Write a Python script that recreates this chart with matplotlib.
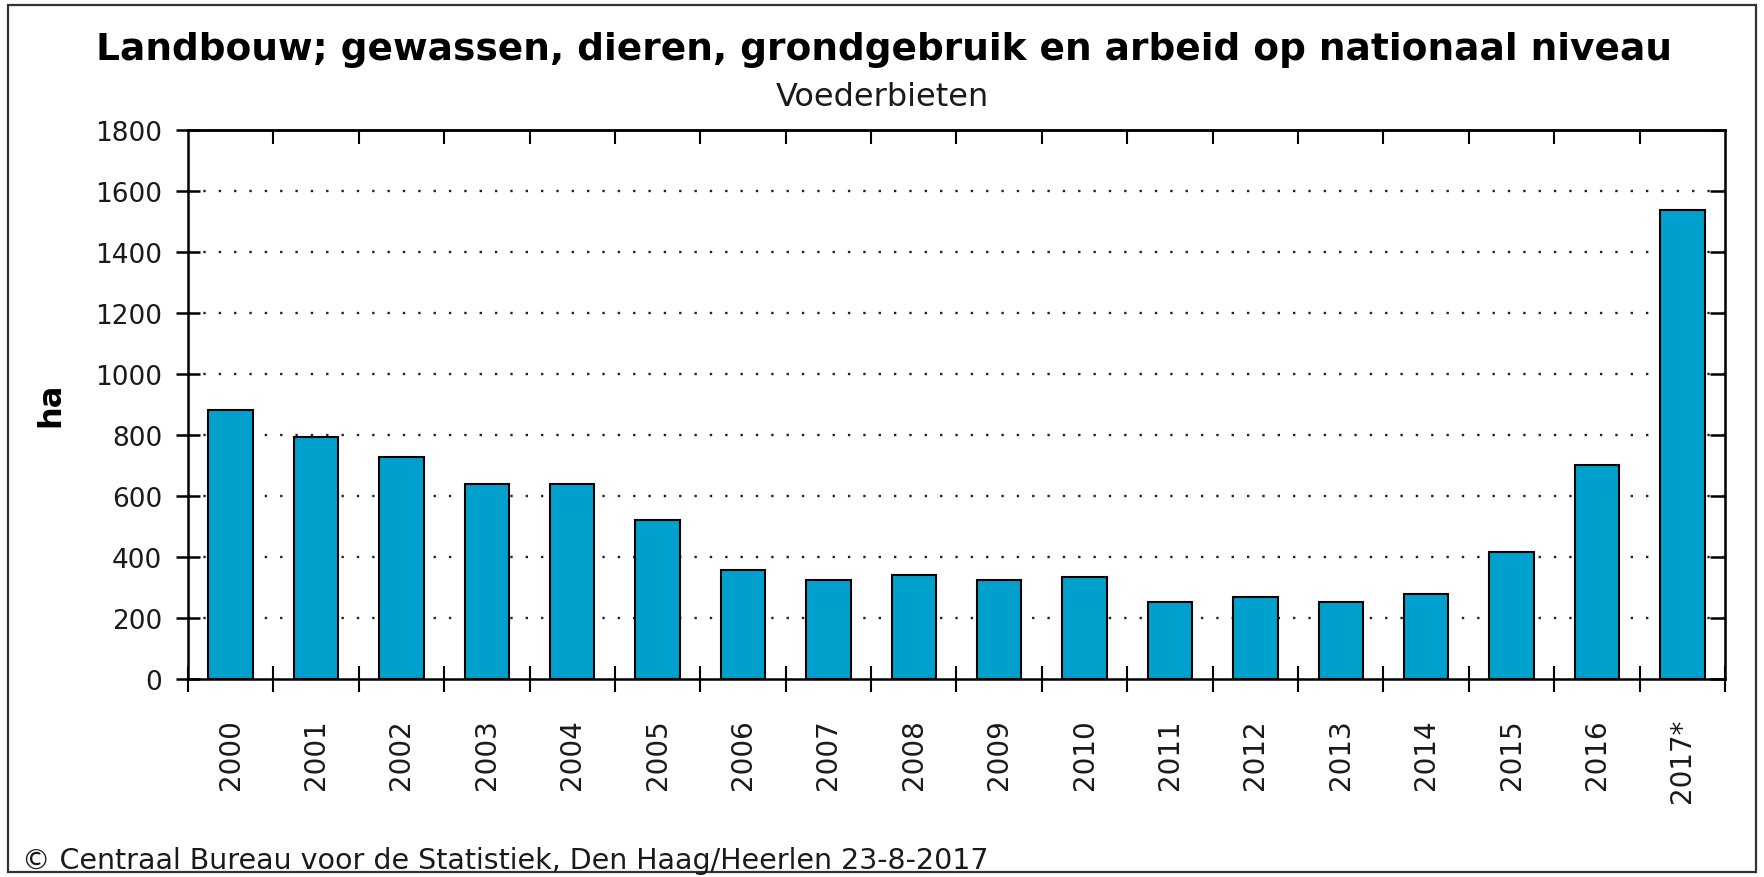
import matplotlib.pyplot as plt
from matplotlib.patches import Rectangle
import numpy as np

# data (Voederbieten, ha)
years = ["2000", "2001", "2002", "2003", "2004", "2005", "2006", "2007", "2008",
         "2009", "2010", "2011", "2012", "2013", "2014", "2015", "2016", "2017*"]
area_ha = [882, 795, 728, 638, 638, 522, 358, 326, 342,
           326, 335, 254, 268, 254, 279, 416, 703, 1538]

yticks = [0, 200, 400, 600, 800, 1000, 1200, 1400, 1600, 1800]

title = "Landbouw; gewassen, dieren, grondgebruik en arbeid op nationaal niveau"
subtitle = "Voederbieten"
ylabel = "ha"
source = "\u00a9 Centraal Bureau voor de Statistiek, Den Haag/Heerlen 23-8-2017"

bar_color = "#00a0cc"
text_color = "#1a1a1a"

W, H = 1764, 878
fig = plt.figure(figsize=(W / 100, H / 100), dpi=100)
ax = fig.add_axes([188 / W, 1 - 680 / H, (1725 - 188) / W, (680 - 131) / H])

x = np.arange(len(years))
ax.bar(x, area_ha, width=0.52, color=bar_color, edgecolor="black",
       linewidth=1.5, zorder=3)

ax.set_xlim(-0.5, len(years) - 0.5)
ax.set_ylim(0, 1800)

# dotted horizontal grid
for v in yticks[1:-1]:
    ax.axhline(v, color="#222222", linestyle=(0, (1, 5.5)), linewidth=1.7, zorder=1)

ax.set_yticks(yticks)
ax.set_yticklabels([str(v) for v in yticks], fontsize=19, color=text_color)
ax.tick_params(axis="y", which="major", direction="inout", length=17, width=1.8,
               pad=10, left=True, right=False)

ax.set_xticks(x)
ax.set_xticklabels(years, rotation=90, fontsize=20, color=text_color, va="top")
ax.tick_params(axis="x", which="major", length=0, pad=28)
ax.set_xticks(np.arange(-0.5, len(years)), minor=True)
ax.tick_params(axis="x", which="minor", direction="inout", length=19, width=1.5,
               bottom=True, top=False)

# inward ticks on top and right side
axt = ax.secondary_xaxis("top")
axt.set_xticks(np.arange(0.5, len(years) - 1))
axt.set_xticklabels([])
axt.tick_params(direction="in", length=10, width=1.5)
axt.spines["top"].set_linewidth(1.8)

axr = ax.secondary_yaxis("right")
axr.set_yticks(yticks)
axr.set_yticklabels([])
axr.tick_params(direction="in", length=11, width=1.8)

for s in ax.spines.values():
    s.set_linewidth(1.8)

fig.text(884 / W, 1 - 50 / H, title, ha="center", va="center",
         fontsize=27, fontweight="bold", color="black")
fig.text(882 / W, 1 - 97 / H, subtitle, ha="center", va="center",
         fontsize=23, color=text_color)
fig.text(51 / W, 1 - 405 / H, ylabel, ha="center", va="center", rotation=90,
         fontsize=23, fontweight="bold", color="black")
fig.text(22 / W, 1 - 861 / H, source, ha="left", va="center",
         fontsize=20.5, color=text_color)

# outer frame
fig.patches.append(Rectangle((8 / W, 5 / H), (1756 - 8) / W, (872 - 5) / H,
                             transform=fig.transFigure, fill=False,
                             edgecolor="#333333", linewidth=1.6))

fig.savefig("out.png", dpi=100)
